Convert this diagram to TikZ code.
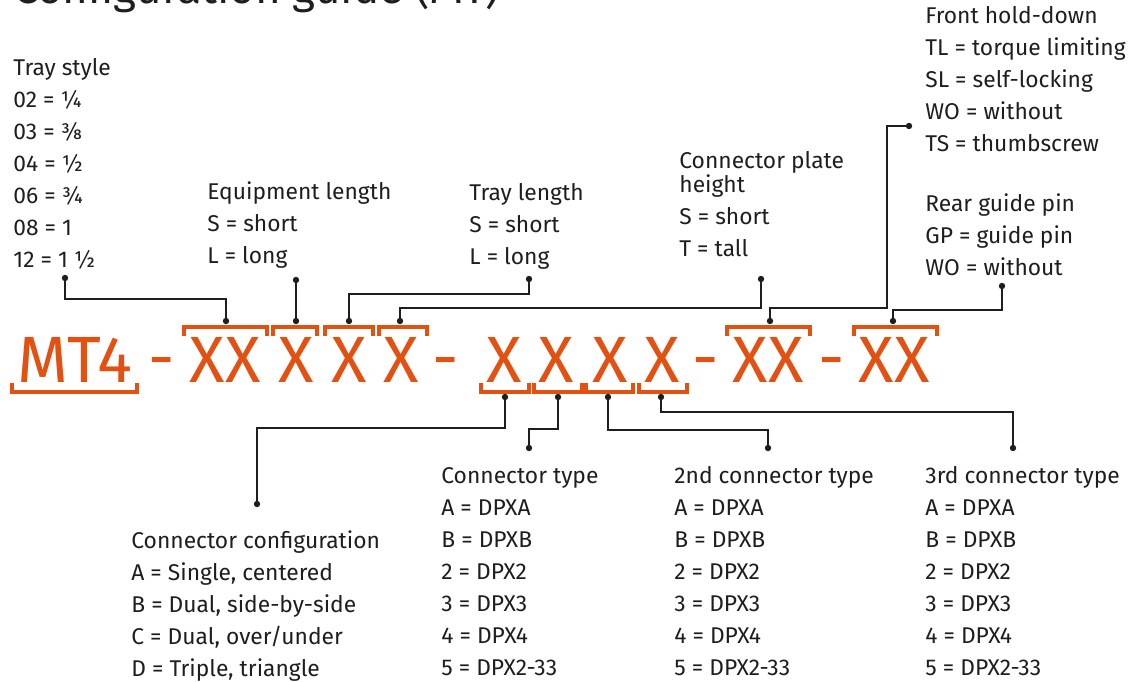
\documentclass[tikz,border=0pt]{standalone}
\usepackage{fontspec}
\setmainfont{Fira Sans}
\definecolor{mtorange}{RGB}{226,80,18}
\definecolor{ink}{RGB}{30,30,30}
\tikzset{
  lbl/.style={anchor=base west,inner sep=0,font=\fontsize{11.4}{13}\selectfont,text=ink},
  codetxt/.style={anchor=base,inner sep=0,font=\fontsize{32.7}{36}\selectfont,text=mtorange},
  brk/.style={draw=mtorange,line width=1.6pt},
  lead/.style={draw=ink,line width=0.75pt},
  dotc/.style={circle,fill=ink,inner sep=0,minimum size=3.2pt},
}
\begin{document}
\begin{tikzpicture}[x=0.5pt,y=-0.5pt]
\useasboundingbox (0,0) rectangle (1139,681);
\begin{scope}
\clip (0,0) rectangle (1139,681);
\node[anchor=base west,inner sep=0,font=\fontsize{22}{26}\selectfont,text=ink] (title) at (13,3) {Configuration guide (MT)};
\end{scope}

% code string
\node[codetxt] (mt4) at (75,382) {MT4};
\node[codetxt] (dash1) at (162,380) {-};
\node[codetxt] (g1) at (225,382) {XX};
\node[codetxt] (g2) at (296,382) {X};
\node[codetxt] (g3) at (349,382) {X};
\node[codetxt] (g4) at (401,382) {X};
\node[codetxt] (dash2) at (446,380) {-};
\node[codetxt] (h1) at (504.5,382) {X};
\node[codetxt] (h2) at (556.5,382) {X};
\node[codetxt] (h3) at (610,382) {X};
\node[codetxt] (h4) at (662.5,382) {X};
\node[codetxt] (dash3) at (706,380) {-};
\node[codetxt] (g5) at (768,382) {XX};
\node[codetxt] (dash4) at (832,380) {-};
\node[codetxt] (g6) at (894,382) {XX};

% brackets
\draw[brk] (12,383) -- (12,392) -- (137,392) -- (137,383);
\draw[brk] (184,336) -- (184,327) -- (267,327) -- (267,336);
\draw[brk] (273,336) -- (273,327) -- (317,327) -- (317,336);
\draw[brk] (325,336) -- (325,327) -- (373,327) -- (373,336);
\draw[brk] (379,336) -- (379,327) -- (427,327) -- (427,336);
\draw[brk] (727,336) -- (727,327) -- (810,327) -- (810,336);
\draw[brk] (854,336) -- (854,327) -- (937,327) -- (937,336);
\draw[brk] (481,383) -- (481,392) -- (529,392) -- (529,383);
\draw[brk] (534,383) -- (534,392) -- (582,392) -- (582,383);
\draw[brk] (586,383) -- (586,392) -- (633,392) -- (633,383);
\draw[brk] (639,383) -- (639,392) -- (687,392) -- (687,383);

% dots on brackets
\node[dotc] (b1) at (226,321) {};
\node[dotc] (b2) at (296,321) {};
\node[dotc] (b3) at (349,321) {};
\node[dotc] (b4) at (400,321) {};
\node[dotc] (b5) at (770,321) {};
\node[dotc] (b6) at (893,321) {};
\node[dotc] (u1) at (505,397) {};
\node[dotc] (u2) at (558,397) {};
\node[dotc] (u3) at (608,397) {};
\node[dotc] (u4) at (661,397) {};

% label dots
\node[dotc] (dts) at (65,278) {};
\node[dotc] (del) at (296,280) {};
\node[dotc] (dtl) at (529,279) {};
\node[dotc] (dcp) at (761,279) {};
\node[dotc] (dfh) at (909,126) {};
\node[dotc] (drg) at (1002,286) {};
\node[dotc] (dcc) at (257,504) {};
\node[dotc] (dct) at (529,448) {};
\node[dotc] (dc2) at (768,448) {};
\node[dotc] (dc3) at (1013,448) {};
\coordinate (fhbend) at (887,126);

% leaders
\draw[lead] (dts.center) -- ++(0,21) -| (b1.center);
\draw[lead] (del.center) -- (b2.center);
\draw[lead] (dtl.center) -- ++(0,15) -| (b3.center);
\draw[lead] (dcp.center) -- ++(0,29) -| (b4.center);
\draw[lead] (dfh.center) -- (fhbend) -- ++(0,182) -| (b5.center);
\draw[lead] (drg.center) -- ++(0,24) -| (b6.center);
\draw[lead] (u1.center) -- ++(0,31) -| (dcc.center);
\draw[lead] (u2.center) -- ++(0,32) -| (dct.center);
\draw[lead] (u3.center) -- ++(0,33) -| (dc2.center);
\draw[lead] (u4.center) -- ++(0,15) -| (dc3.center);

% Tray style
\node[lbl] (ts0) at (13,75) {Tray style};
\node[lbl] (ts1) at (13,107) {02 = ¼};
\node[lbl] (ts2) at (13,139) {03 = ⅜};
\node[lbl] (ts3) at (13,171) {04 = ½};
\node[lbl] (ts4) at (13,203) {06 = ¾};
\node[lbl] (ts5) at (13,235) {08 = 1};
\node[lbl] (ts6) at (13,267) {12 = 1 ½};

% Equipment length
\node[lbl] (el0) at (207,199) {Equipment length};
\node[lbl] (el1) at (207,231) {S = short};
\node[lbl] (el2) at (207,263) {L = long};

% Tray length
\node[lbl] (tl0) at (469,200) {Tray length};
\node[lbl] (tl1) at (469,232) {S = short};
\node[lbl] (tl2) at (469,264) {L = long};

% Connector plate height
\node[lbl] (cp0) at (679,168) {Connector plate};
\node[lbl] (cp1) at (679,192) {height};
\node[lbl] (cp2) at (679,224) {S = short};
\node[lbl] (cp3) at (679,256) {T = tall};

% Front hold-down
\node[lbl] (fh0) at (925,23) {Front hold-down};
\node[lbl] (fh1) at (925,55) {TL = torque limiting};
\node[lbl] (fh2) at (925,87) {SL = self-locking};
\node[lbl] (fh3) at (925,119) {WO = without};
\node[lbl] (fh4) at (925,151) {TS = thumbscrew};

% Rear guide pin
\node[lbl] (rg0) at (925,211) {Rear guide pin};
\node[lbl] (rg1) at (925,243) {GP = guide pin};
\node[lbl] (rg2) at (925,275) {WO = without};

% Connector configuration
\node[lbl] (cc0) at (131,548) {Connector configuration};
\node[lbl] (cc1) at (131,580) {A = Single, centered};
\node[lbl] (cc2) at (131,612) {B = Dual, side-by-side};
\node[lbl] (cc3) at (131,644) {C = Dual, over/under};
\node[lbl] (cc4) at (131,676) {D = Triple, triangle};

% Connector types
\foreach \cx/\nm/\ttl in {441/ct/Connector type, 674/cb/2nd connector type, 925/cd/3rd connector type}{
  \node[lbl] (\nm0) at (\cx,483) {\ttl};
  \node[lbl] (\nm1) at (\cx,515) {A = DPXA};
  \node[lbl] (\nm2) at (\cx,547) {B = DPXB};
  \node[lbl] (\nm3) at (\cx,579) {2 = DPX2};
  \node[lbl] (\nm4) at (\cx,611) {3 = DPX3};
  \node[lbl] (\nm5) at (\cx,643) {4 = DPX4};
  \node[lbl] (\nm6) at (\cx,675) {5 = DPX2-33};
}
\end{tikzpicture}
\end{document}
